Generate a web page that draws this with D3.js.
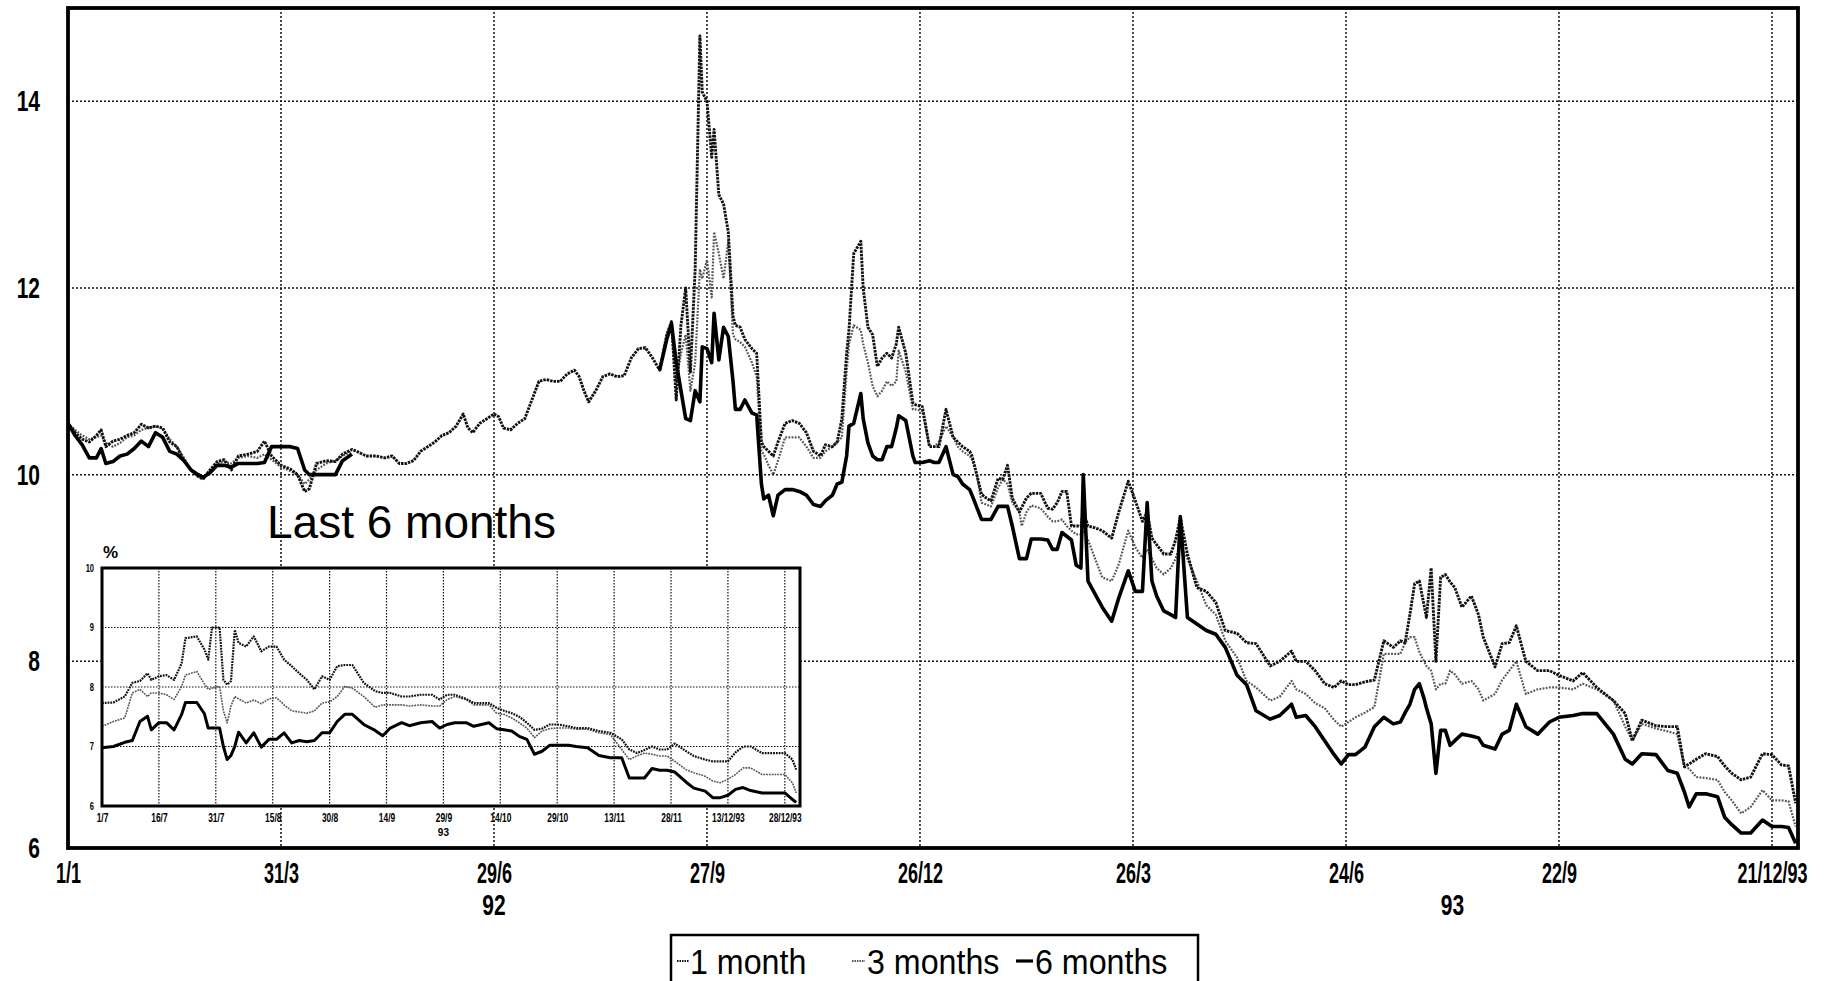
<!DOCTYPE html>
<meta charset="utf-8">
<style>
body { margin: 0; background: #fff; }
svg { display: block; }
.tick text { font-family: "Liberation Sans", Arial, sans-serif; font-weight: bold; fill: #000; }
</style>
<svg width="1837" height="981"></svg>
<script src="https://cdn.jsdelivr.net/npm/d3@7"></script>
<script>

// ---- main chart data: day offsets from 1 Jan 1992, rates in % ----
var days = [
  0,3,6,9,12,14,16,19,22,25,28,31,34,37,40,43,46,49,52,55,
  57,60,63,66,69,72,76,80,83,86,90,94,97,100,102,105,109,113,116,120,
  122,126,130,134,137,140,143,146,149,152,155,158,161,164,167,169,171,174,177,180,
  182,184,187,190,193,196,199,202,205,208,211,214,216,218,220,223,226,229,232,235,
  238,241,244,247,
  250,253,255,257,259,261,263,265,267,268,
  270,272,273,275,277,279,281,282,284,286,
  289,291,293,294,296,298,300,303,306,309,
  312,315,318,320,323,325,327,329,330,332,
  335,336,338,340,342,344,346,348,350,351,
  354,357,358,361,364,366,368,371,374,376,
  378,381,382,384,386,388,390,393,395,397,
  399,402,403,405,407,411,414,416,418,420,
  422,424,426,428,429,431,434,437,441,444,
  448,451,454,456,458,460,463,466,468,470,
  473,477,481,485,489,494,498,502,508,512,
  517,519,523,527,531,535,538,541,544,548,
  552,556,560,563,565,567,569,571,573,574,
  576,578,580,582,584,586,589,593,596,598,
  603,606,609,612,616,621,626,630,636,640,
  646,653,658,661,665,671,676,680,683,685,
  688,692,697,700,703,707,711,716,720,724,
  727,730
];

var oneMonth = [
  10.55,10.45,10.38,10.35,10.42,10.48,10.30,10.36,10.38,10.42,
  10.45,10.54,10.50,10.52,10.50,10.35,10.30,10.15,10.05,9.98,
  9.95,10.05,10.14,10.16,10.05,10.20,10.22,10.25,10.36,10.20,
  10.10,10.06,10.00,9.82,9.85,10.12,10.15,10.14,10.22,10.27,
  10.25,10.20,10.20,10.18,10.20,10.12,10.12,10.15,10.25,10.30,
  10.35,10.42,10.45,10.52,10.65,10.50,10.45,10.55,10.60,10.65,
  10.62,10.50,10.48,10.55,10.60,10.80,11.00,11.02,11.00,11.00,
  11.08,11.12,11.05,10.90,10.78,10.90,11.05,11.08,11.05,11.06,
  11.25,11.35,11.36,11.25,
  11.12,11.50,11.64,10.80,11.60,12.00,11.10,12.20,14.70,14.10,
  14.00,13.40,13.70,13.00,12.90,12.60,11.70,11.60,11.58,11.45,
  11.35,11.30,10.35,10.30,10.25,10.20,10.35,10.55,10.58,10.55,
  10.45,10.25,10.20,10.32,10.30,10.35,10.60,11.30,11.55,12.37,
  12.50,12.00,11.58,11.50,11.16,11.25,11.30,11.25,11.40,11.58,
  11.30,10.77,10.75,10.73,10.30,10.30,10.30,10.70,10.40,10.35,
  10.30,10.25,10.20,10.00,9.79,9.75,9.72,9.96,9.95,10.10,
  9.75,9.60,9.65,9.75,9.80,9.80,9.64,9.63,9.70,9.82,
  9.82,9.45,9.45,9.45,9.60,9.45,9.43,9.40,9.32,9.60,
  9.93,9.72,9.50,9.60,9.32,9.25,9.15,9.15,9.30,9.54,
  9.15,8.79,8.75,8.63,8.33,8.30,8.20,8.19,7.95,8.00,
  8.11,8.00,8.00,7.90,7.76,7.72,7.79,7.75,7.75,7.78,
  7.80,8.22,8.15,8.22,8.20,8.50,8.83,8.86,8.60,8.47,
  9.00,8.00,8.90,8.93,8.85,8.79,8.58,8.70,8.50,8.26,
  7.94,8.19,8.20,8.38,8.00,7.90,7.90,7.85,7.79,7.88,
  7.72,7.58,7.44,7.15,7.37,7.31,7.30,7.30,6.87,6.90,
  6.95,7.01,6.98,6.88,6.80,6.73,6.76,7.01,7.00,6.89,
  6.88,6.48
];

var threeMonths = [
  10.55,10.48,10.42,10.38,10.40,10.42,10.34,10.30,10.34,10.40,
  10.42,10.48,10.50,10.52,10.50,10.38,10.30,10.18,10.05,10.00,
  9.96,10.02,10.12,10.14,10.12,10.18,10.20,10.18,10.22,10.16,
  10.08,10.04,10.00,9.90,9.95,10.05,10.12,10.15,10.20,10.25,
  null,null,null,null,null,null,null,null,null,null,
  null,null,null,null,null,null,null,null,null,null,
  null,null,null,null,null,null,null,null,null,null,
  null,null,null,null,null,null,null,null,null,null,
  null,null,null,null,
  11.12,11.45,11.60,11.00,11.30,11.50,10.90,11.20,12.20,12.10,
  12.30,11.90,12.60,12.37,12.10,12.50,11.50,11.45,11.42,11.37,
  11.20,11.05,10.25,10.22,10.10,10.00,10.15,10.40,10.40,10.40,
  10.30,10.18,10.18,10.25,10.30,10.35,10.40,11.10,11.40,11.60,
  11.55,11.40,11.20,10.95,10.84,10.90,11.00,10.95,11.00,11.33,
  11.10,10.70,10.70,10.68,10.30,10.30,10.35,10.52,10.40,10.30,
  10.25,10.20,10.16,10.00,9.70,9.68,9.66,9.86,9.95,9.90,
  9.70,9.60,9.45,9.60,9.67,9.64,9.55,9.50,9.50,9.52,
  9.45,9.40,9.36,9.36,9.40,9.30,9.10,8.90,8.86,9.04,
  9.40,9.22,9.11,9.20,9.10,9.00,8.93,9.00,9.10,9.25,
  9.10,8.86,8.60,8.50,8.22,8.04,7.79,7.72,7.58,7.62,
  7.79,7.70,7.65,7.55,7.50,7.37,7.30,7.35,7.40,7.45,
  7.51,8.08,8.08,8.08,8.20,8.26,8.26,8.10,8.00,7.95,
  7.90,7.70,7.76,7.76,7.90,7.86,7.76,7.79,7.70,7.58,
  7.65,7.80,7.90,8.00,7.65,7.70,7.72,7.72,7.70,7.76,
  7.70,7.58,7.30,7.15,7.33,7.28,7.25,7.22,6.87,6.85,
  6.76,6.75,6.73,6.60,6.51,6.37,6.44,6.62,6.51,6.51,
  6.50,6.23
];

var sixMonths = [
  10.55,10.42,10.32,10.18,10.18,10.28,10.12,10.14,10.20,10.22,
  10.28,10.36,10.30,10.45,10.40,10.25,10.22,10.15,10.05,10.00,
  9.97,10.02,10.10,10.10,10.08,10.12,10.12,10.12,10.13,10.30,
  10.30,10.30,10.28,10.05,10.00,10.00,10.00,10.00,10.15,10.22,
  null,null,null,null,null,null,null,null,null,null,
  null,null,null,null,null,null,null,null,null,null,
  null,null,null,null,null,null,null,null,null,null,
  null,null,null,null,null,null,null,null,null,null,
  null,null,null,null,
  11.12,11.45,11.62,11.20,10.90,10.60,10.58,10.90,10.78,11.37,
  11.35,11.20,11.73,11.23,11.58,11.48,11.00,10.70,10.70,10.80,
  10.66,10.64,9.90,9.74,9.78,9.56,9.78,9.84,9.84,9.82,
  9.78,9.68,9.66,9.72,9.78,9.90,9.92,10.20,10.52,10.55,
  10.87,10.60,10.34,10.20,10.16,10.16,10.30,10.30,10.50,10.63,
  10.58,10.20,10.13,10.13,10.15,10.13,10.13,10.30,10.00,9.98,
  9.90,9.84,9.78,9.65,9.52,9.52,9.52,9.66,9.66,9.66,
  9.45,9.10,9.10,9.10,9.31,9.31,9.30,9.20,9.20,9.38,
  9.34,9.30,9.03,9.00,10.00,8.86,8.72,8.58,8.43,8.68,
  8.97,8.75,8.75,9.70,8.86,8.70,8.54,8.50,8.47,9.55,
  8.47,8.40,8.33,8.29,8.15,7.85,7.75,7.47,7.38,7.42,
  7.54,7.40,7.42,7.30,7.15,7.00,6.90,7.00,7.00,7.08,
  7.30,7.40,7.33,7.35,7.45,7.54,7.70,7.76,7.60,7.50,
  7.33,6.80,7.26,7.26,7.10,7.15,7.22,7.20,7.18,7.10,
  7.06,7.22,7.26,7.54,7.30,7.22,7.35,7.40,7.42,7.44,
  7.44,7.22,6.95,6.90,7.01,7.00,6.83,6.80,6.60,6.44,
  6.58,6.58,6.55,6.33,6.25,6.16,6.16,6.30,6.23,6.23,
  6.22,6.05
];

var tickDays = [0, 90, 180, 270, 360, 450, 540, 630, 720];
var tickLabels = ["1/1", "31/3", "29/6", "27/9", "26/12", "26/3", "24/6", "22/9", "21/12/93"];
var yearDays = [180, 585];
var yearLabels = ["92", "93"];
var yTicks = [6, 8, 10, 12, 14];

// ---- inset: last 6 months, day offsets from 1 Jul 1993 ----
var insetDays = [
  0,3,6,8,10,12,13,15,17,19,21,22,25,27,28,29,31,32,33,34,
  35,36,38,40,42,44,46,48,50,52,54,56,58,60,62,64,66,69,72,74,
  76,79,81,84,87,89,91,93,96,98,102,104,106,108,110,112,114,116,118,120,
  123,125,128,131,134,137,139,141,143,145,147,149,151,154,156,159,161,163,165,167,
  169,171,174,177,180,182,183
];
var insetOne = [
  7.73,7.74,7.84,8.07,8.10,8.23,8.12,8.18,8.20,8.12,8.40,8.82,8.85,8.63,8.46,9.00,9.00,8.12,8.04,8.10,
  8.96,8.74,8.68,8.85,8.60,8.68,8.68,8.46,8.35,8.23,8.12,7.96,8.18,8.12,8.35,8.37,8.37,8.07,7.93,7.90,
  7.90,7.84,7.84,7.87,7.87,7.79,7.87,7.87,7.80,7.73,7.73,7.65,7.60,7.56,7.50,7.40,7.28,7.30,7.37,7.37,
  7.34,7.31,7.31,7.26,7.23,7.12,6.95,6.89,6.94,7.00,6.95,6.95,7.05,6.92,6.84,6.78,6.75,6.75,6.75,6.90,
  7.00,7.00,6.89,6.89,6.89,6.78,6.61
];
var insetThree = [
  7.34,7.42,7.48,7.90,7.96,7.84,7.90,7.90,7.87,7.79,8.01,8.20,8.26,8.05,7.96,7.98,8.01,7.60,7.40,7.68,
  7.84,7.80,7.73,7.78,7.72,7.80,7.82,7.70,7.60,7.58,7.56,7.60,7.73,7.75,7.84,8.01,7.98,7.84,7.66,7.70,
  7.70,7.70,7.68,7.70,7.68,7.68,7.79,7.84,7.79,7.70,7.70,7.56,7.54,7.48,7.40,7.31,7.15,7.26,7.30,7.31,
  7.31,7.29,7.29,7.23,7.20,6.95,6.78,6.84,6.89,6.87,6.84,6.84,6.75,6.61,6.56,6.50,6.42,6.39,6.45,6.53,
  6.64,6.64,6.53,6.53,6.53,6.39,6.22
];
var insetSix = [
  6.98,7.00,7.07,7.10,7.42,7.51,7.28,7.40,7.40,7.28,7.54,7.74,7.74,7.55,7.31,7.31,7.31,7.00,6.78,6.85,
  7.00,7.24,7.06,7.23,6.99,7.12,7.12,7.23,7.06,7.10,7.08,7.10,7.23,7.23,7.42,7.54,7.54,7.37,7.27,7.18,
  7.31,7.40,7.35,7.40,7.42,7.31,7.37,7.40,7.40,7.34,7.40,7.30,7.28,7.26,7.17,7.12,6.87,6.92,7.02,7.02,
  7.02,7.00,6.98,6.85,6.81,6.81,6.47,6.47,6.47,6.63,6.60,6.60,6.57,6.40,6.30,6.25,6.14,6.14,6.18,6.28,
  6.31,6.26,6.22,6.22,6.22,6.11,6.06
];
var insetTickDays = [0, 15, 30, 45, 60, 75, 90, 105, 120, 135, 150, 165, 180];
var insetTickLabels = ["1/7", "16/7", "31/7", "15/8", "30/8", "14/9", "29/9", "14/10", "29/10", "13/11", "28/11", "13/12/93", "28/12/93"];
var insetYTicks = [6, 7, 8, 9, 10];

var legendLabels = ["1 month", "3 months", "6 months"];

// ---------------------------------------------------------------

var svg = d3.select("svg");
var DAY = 86400000;
var start = Date.UTC(1992, 0, 1);
var insetStart = Date.UTC(1993, 6, 1);
function dayDate(d) { return new Date(start + d * DAY); }
function insetDate(d) { return new Date(insetStart + d * DAY); }

// squeeze text horizontally, the scan uses a narrow face
function condense(sel, f) {
  sel.each(function() {
    var w = this.getComputedTextLength();
    d3.select(this).attr("textLength", w * f).attr("lengthAdjust", "spacingAndGlyphs");
  });
}

var styles = [
  {stroke: "#111", width: 2.9, dash: "2.5,1"},      // 1 month
  {stroke: "#555", width: 2.2, dash: "1.8,1.4"},    // 3 months
  {stroke: "#000", width: 3.6, dash: null}          // 6 months
];

var x = d3.scaleUtc().domain([dayDate(0), dayDate(731)]).range([68, 1798]);
var y = d3.scaleLinear().domain([6, 15]).range([848, 8]);

var g = svg.append("g");

// grid
g.selectAll(".vgrid").data(tickDays.slice(1)).enter().append("line")
  .attr("x1", function(d) { return x(dayDate(d)); })
  .attr("x2", function(d) { return x(dayDate(d)); })
  .attr("y1", y(15)).attr("y2", y(6))
  .attr("stroke", "#111").attr("stroke-width", 1.5).attr("stroke-dasharray", "2,2");
g.selectAll(".hgrid").data(yTicks.slice(1)).enter().append("line")
  .attr("x1", x(dayDate(0))).attr("x2", x(dayDate(731)))
  .attr("y1", function(d) { return y(d); })
  .attr("y2", function(d) { return y(d); })
  .attr("stroke", "#111").attr("stroke-width", 1.5).attr("stroke-dasharray", "2,2");

// series
var series = [oneMonth, threeMonths, sixMonths].map(function(vals) {
  return days.map(function(d, i) { return {date: dayDate(d), v: vals[i]}; });
});
var line = d3.line()
  .defined(function(d) { return d.v != null; })
  .x(function(d) { return x(d.date); })
  .y(function(d) { return y(d.v); });

[1, 0, 2].forEach(function(k) {
  g.append("path")
    .attr("d", line(series[k]))
    .attr("fill", "none")
    .attr("stroke", styles[k].stroke)
    .attr("stroke-width", styles[k].width)
    .attr("stroke-dasharray", styles[k].dash)
    .attr("stroke-linejoin", "round");
});

// frame
g.append("rect")
  .attr("x", 68).attr("y", 8).attr("width", 1730).attr("height", 840)
  .attr("fill", "none").attr("stroke", "#000").attr("stroke-width", 3.8);

// axes
var xAxis = g.append("g")
  .attr("transform", "translate(0,848)")
  .call(d3.axisBottom(x)
    .tickValues(tickDays.map(dayDate))
    .tickFormat(function(d, i) { return tickLabels[i]; })
    .tickSize(0).tickPadding(14));
xAxis.select(".domain").remove();
xAxis.selectAll("text").style("font-size", "30px");
condense(xAxis.selectAll("text"), 0.6);

var yAxis = g.append("g")
  .attr("transform", "translate(68,0)")
  .call(d3.axisLeft(y).tickValues(yTicks).tickSize(0).tickPadding(28));
yAxis.select(".domain").remove();
yAxis.selectAll("text").style("font-size", "30px");
condense(yAxis.selectAll("text"), 0.7);

var years = g.selectAll(".year").data(yearDays).enter().append("text")
  .attr("x", function(d) { return x(dayDate(d)); })
  .attr("y", 915)
  .attr("text-anchor", "middle")
  .style("font-family", "'Liberation Sans', Arial, sans-serif")
  .style("font-weight", "bold").style("font-size", "30px")
  .text(function(d, i) { return yearLabels[i]; });
condense(years, 0.7);

// ---- inset ----
var ix = d3.scaleUtc().domain([insetDate(0), insetDate(184)]).range([102, 800]);
var iy = d3.scaleLinear().domain([6, 10]).range([806, 568]);
var ig = svg.append("g");

ig.append("text")
  .attr("x", 267).attr("y", 538)
  .style("font-family", "'Liberation Sans', Arial, sans-serif")
  .style("font-size", "46px")
  .text("Last 6 months");

ig.append("rect")
  .attr("x", 102).attr("y", 568).attr("width", 698).attr("height", 238)
  .attr("fill", "#fff");

ig.selectAll(".ivgrid").data(insetTickDays.slice(1)).enter().append("line")
  .attr("x1", function(d) { return ix(insetDate(d)); })
  .attr("x2", function(d) { return ix(insetDate(d)); })
  .attr("y1", iy(10)).attr("y2", iy(6))
  .attr("stroke", "#111").attr("stroke-width", 1.2).attr("stroke-dasharray", "1.5,1.5");
ig.selectAll(".ihgrid").data(insetYTicks.slice(1, 4)).enter().append("line")
  .attr("x1", 102).attr("x2", 800)
  .attr("y1", function(d) { return iy(d); })
  .attr("y2", function(d) { return iy(d); })
  .attr("stroke", "#111").attr("stroke-width", 1.2).attr("stroke-dasharray", "1.5,1.5");

var iline = d3.line()
  .x(function(d) { return ix(d.date); })
  .y(function(d) { return iy(d.v); });
var insetSeries = [insetOne, insetThree, insetSix].map(function(vals) {
  return insetDays.map(function(d, i) { return {date: insetDate(d), v: vals[i]}; });
});
var insetWidths = [2.2, 1.6, 3.0];
[1, 0, 2].forEach(function(k) {
  ig.append("path")
    .attr("d", iline(insetSeries[k]))
    .attr("fill", "none")
    .attr("stroke", styles[k].stroke)
    .attr("stroke-width", insetWidths[k])
    .attr("stroke-dasharray", k == 2 ? null : "1.8,1")
    .attr("stroke-linejoin", "round");
});

ig.append("rect")
  .attr("x", 102).attr("y", 568).attr("width", 698).attr("height", 238)
  .attr("fill", "none").attr("stroke", "#000").attr("stroke-width", 3);

var ixAxis = ig.append("g")
  .attr("transform", "translate(0,806)")
  .call(d3.axisBottom(ix)
    .tickValues(insetTickDays.map(insetDate))
    .tickFormat(function(d, i) { return insetTickLabels[i]; })
    .tickSize(0).tickPadding(7));
ixAxis.select(".domain").remove();
ixAxis.selectAll("text").style("font-size", "12px");
condense(ixAxis.selectAll("text"), 0.7);

var iyAxis = ig.append("g")
  .attr("transform", "translate(102,0)")
  .call(d3.axisLeft(iy).tickValues(insetYTicks).tickFormat(d3.format("d")).tickSize(0).tickPadding(8));
iyAxis.select(".domain").remove();
iyAxis.selectAll("text").style("font-size", "10px");
condense(iyAxis.selectAll("text"), 0.75);

ig.append("text")
  .attr("x", ix(insetDate(90))).attr("y", 836)
  .attr("text-anchor", "middle")
  .style("font-family", "'Liberation Sans', Arial, sans-serif")
  .style("font-weight", "bold").style("font-size", "10px")
  .text("93");

ig.append("text")
  .attr("x", 103).attr("y", 558)
  .style("font-family", "'Liberation Sans', Arial, sans-serif")
  .style("font-weight", "bold").style("font-size", "17px")
  .text("%");

// ---- legend ----
var lg = svg.append("g");
lg.append("rect")
  .attr("x", 671).attr("y", 935).attr("width", 527).attr("height", 60)
  .attr("fill", "#fff").attr("stroke", "#000").attr("stroke-width", 2.5);

var legendX = [677, 852, 1016];
var legendW = [12, 13, 17];
var legendTextX = [690, 867, 1035];
legendLabels.forEach(function(t, k) {
  lg.append("line")
    .attr("x1", legendX[k]).attr("x2", legendX[k] + legendW[k])
    .attr("y1", 961).attr("y2", 961)
    .attr("stroke", styles[k].stroke)
    .attr("stroke-width", k == 2 ? 3.2 : (k == 0 ? 2.2 : 1.8))
    .attr("stroke-dasharray", k == 2 ? null : "1.5,1");
  var tx = lg.append("text")
    .attr("x", legendTextX[k]).attr("y", 974)
    .style("font-family", "'Liberation Sans', Arial, sans-serif")
    .style("font-size", "35px")
    .text(t);
  condense(tx, 0.92);
});

</script>
